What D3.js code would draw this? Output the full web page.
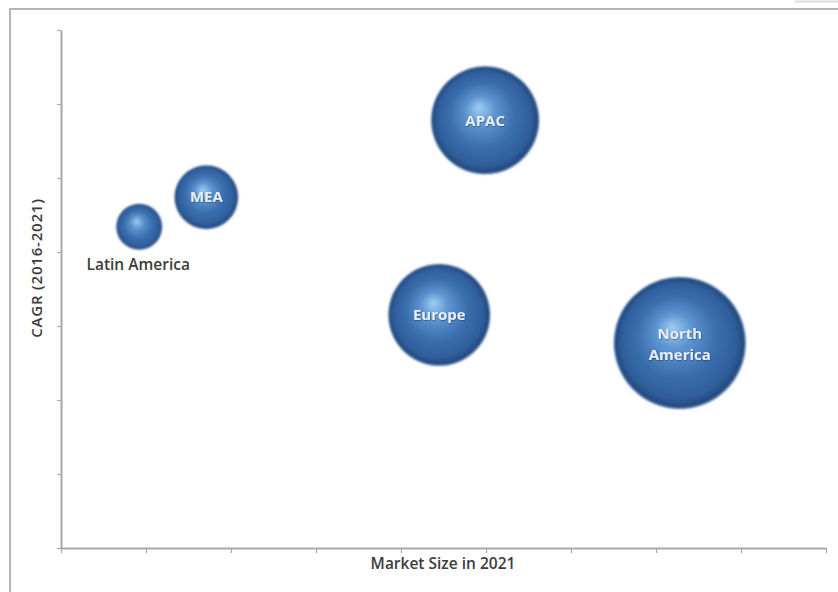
<!DOCTYPE html>
<html>
<head>
<meta charset="utf-8">
<script src="https://cdn.jsdelivr.net/npm/d3@7"></script>
<style>
  body { margin: 0; background: #fff; }
  svg { display: block; }
</style>
</head>
<body>
<div id="chart"></div>
<script>
// region data
const regions = ['Latin America', 'MEA', 'APAC', 'Europe', 'North America'];
const marketSize = [0.92, 1.71, 4.99, 4.45, 7.28];   // x, market size in 2021
const cagr = [4.34, 4.74, 5.78, 3.15, 2.77];         // y, CAGR 2016-2021
const bubbleSize = [5.3, 10.2, 29.2, 26.0, 43.6];    // bubble area
const xTicks = d3.range(0, 10);
const yTicks = d3.range(0, 8);

const width = 838, height = 592;

const svg = d3.select('#chart').append('svg')
    .attr('width', width)
    .attr('height', height)
    .attr('font-family', '"Open Sans", sans-serif');

const defs = svg.append('defs');
const grad = defs.append('radialGradient')
    .attr('id', 'sphere')
    .attr('cx', '50%').attr('cy', '50%').attr('r', '50%')
    .attr('fx', '44%').attr('fy', '38%');
[
    [0, '#9fcdf2'],
    [0.28, '#5b93cf'],
    [0.6, '#3b6eae'],
    [0.87, '#2f5e9c'],
    [0.97, '#24497e'],
    [1, '#4d78ad']
].forEach(([o, c]) => grad.append('stop').attr('offset', o).attr('stop-color', c));

const blur = defs.append('filter').attr('id', 'soft');
blur.append('feGaussianBlur').attr('stdDeviation', 0.9);

const shadow = defs.append('filter').attr('id', 'txtShadow')
    .attr('x', '-20%').attr('y', '-20%').attr('width', '140%').attr('height', '140%');
shadow.append('feDropShadow')
    .attr('dx', 0.5).attr('dy', 0.5).attr('stdDeviation', 0.6)
    .attr('flood-color', '#0d2a50').attr('flood-opacity', 0.8);

// outer frame
svg.append('path')
    .attr('d', 'M10,592 V9 H838')
    .attr('fill', 'none')
    .attr('stroke', '#b4b4b4')
    .attr('stroke-width', 2);
svg.append('line')
    .attr('x1', 795).attr('x2', 838).attr('y1', 1.5).attr('y2', 1.5)
    .attr('stroke', '#dcdcdc').attr('stroke-width', 2);

const x = d3.scaleLinear().domain([0, 9]).range([61, 826]);
const y = d3.scaleLinear().domain([0, 7]).range([548, 30]);
const r = d3.scaleSqrt().domain([0, d3.max(bubbleSize)]).range([0, 66]);

const xAxis = svg.append('g')
    .attr('transform', `translate(0, ${y(0)})`)
    .call(d3.axisBottom(x).tickValues(xTicks).tickFormat('').tickSize(5).tickSizeOuter(0));
const yAxis = svg.append('g')
    .attr('transform', `translate(${x(0)}, 0)`)
    .call(d3.axisLeft(y).tickValues(yTicks).tickFormat('').tickSize(4).tickSizeOuter(0));
[xAxis, yAxis].forEach(a => {
    a.select('.domain').attr('stroke', '#a8a8a8').attr('stroke-width', 2);
    a.selectAll('.tick line').attr('stroke', '#a8a8a8').attr('stroke-width', 1.2);
});

// axis titles
svg.append('text')
    .attr('x', 443).attr('y', 569)
    .attr('text-anchor', 'middle')
    .attr('font-size', 15.5).attr('font-weight', 600)
    .attr('fill', '#3c3c3c')
    .text('Market Size in 2021');
svg.append('text')
    .attr('transform', 'translate(42, 268) rotate(-90)')
    .attr('text-anchor', 'middle')
    .attr('font-size', 15).attr('font-weight', 600)
    .attr('letter-spacing', 0.8)
    .attr('fill', '#3c3c3c')
    .text('CAGR (2016-2021)');

const data = regions.map((name, i) => ({
    name, x: marketSize[i], y: cagr[i], s: bubbleSize[i]
}));

svg.append('g').selectAll('circle')
    .data(data)
    .join('circle')
    .attr('cx', d => x(d.x))
    .attr('cy', d => y(d.y))
    .attr('r', d => r(d.s))
    .attr('fill', 'url(#sphere)')
    .attr('filter', 'url(#soft)');

// labels
const inside = data.filter(d => d.name !== 'Latin America');
const labels = svg.append('g').selectAll('text')
    .data(inside)
    .join('text')
    .attr('x', d => x(d.x))
    .attr('y', d => y(d.y))
    .attr('text-anchor', 'middle')
    .attr('font-size', 15).attr('font-weight', 700)
    .attr('fill', '#e6eef7')
    .attr('filter', 'url(#txtShadow)');
labels.each(function (d) {
    const words = d.name === 'North America' ? ['North', 'America'] : [d.name];
    const t = d3.select(this);
    words.forEach((w, i) => {
        t.append('tspan')
            .attr('x', x(d.x))
            .attr('dy', i === 0 ? (words.length === 1 ? '0.35em' : '-0.3em') : '1.45em')
            .text(w);
    });
});

const la = data[0];
svg.append('text')
    .attr('x', x(la.x) - 1)
    .attr('y', y(la.y) + r(la.s) + 20)
    .attr('text-anchor', 'middle')
    .attr('font-size', 15.5).attr('font-weight', 600)
    .attr('fill', '#3c3c3c')
    .text(la.name);
</script>
</body>
</html>
